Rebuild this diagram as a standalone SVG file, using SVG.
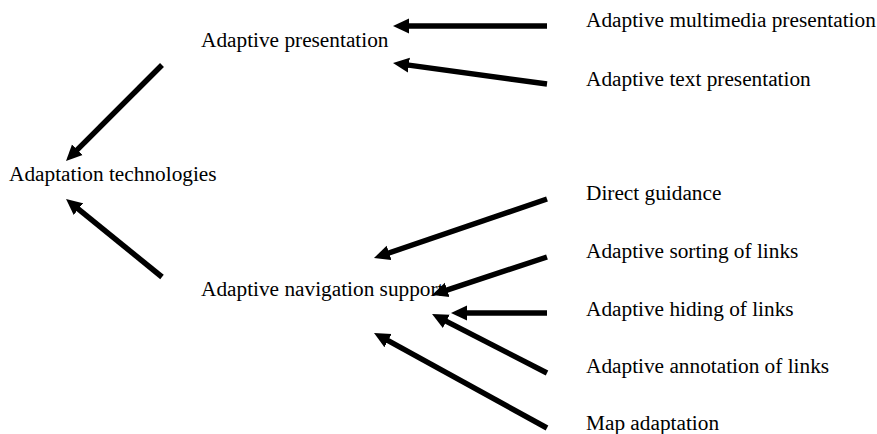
<svg xmlns="http://www.w3.org/2000/svg" width="877" height="434" viewBox="0 0 877 434">
<style>
text { font-family: "Liberation Serif", "Times New Roman", serif; font-size: 21.3px; fill: #000; }
.c line { stroke: #000; stroke-width: 5.5; stroke-linecap: butt; marker-end: url(#ah); }
</style>
<defs>
<marker id="ah" markerUnits="userSpaceOnUse" markerWidth="16" markerHeight="16" viewBox="0 0 16 16" refX="2" refY="8" orient="auto">
<path d="M0,0.5 L16,8 L0,15.5 z" fill="#000"/>
</marker>
</defs>
<rect width="877" height="434" fill="#fff"/>
<g id="n-tech"><text x="9" y="181">Adaptation technologies</text></g>
<g id="n-pres"><text x="201" y="47">Adaptive presentation</text></g>
<g id="n-nav"><text x="201" y="296">Adaptive navigation support</text></g>
<g id="n-mm"><text x="586" y="27">Adaptive multimedia presentation</text></g>
<g id="n-text"><text x="586" y="86">Adaptive text presentation</text></g>
<g id="n-dg"><text x="586" y="200">Direct guidance</text></g>
<g id="n-sort"><text x="586" y="258">Adaptive sorting of links</text></g>
<g id="n-hide"><text x="586" y="316">Adaptive hiding of links</text></g>
<g id="n-ann"><text x="586" y="373">Adaptive annotation of links</text></g>
<g id="n-map"><text x="586" y="430">Map adaptation</text></g>
<g id="connectors" class="c">
<line x1="547" y1="26" x2="407" y2="26"/>
<line x1="547" y1="84" x2="406.9" y2="64.9"/>
<line x1="162" y1="65" x2="75.9" y2="151.1"/>
<line x1="162" y1="277" x2="76.9" y2="207.8"/>
<line x1="547" y1="199" x2="387.2" y2="253.5"/>
<line x1="547" y1="257" x2="445.3" y2="290.6"/>
<line x1="547" y1="313" x2="465" y2="313"/>
<line x1="547" y1="373" x2="444.5" y2="320.4"/>
<line x1="547" y1="428" x2="386.3" y2="339.7"/>
</g>
</svg>
